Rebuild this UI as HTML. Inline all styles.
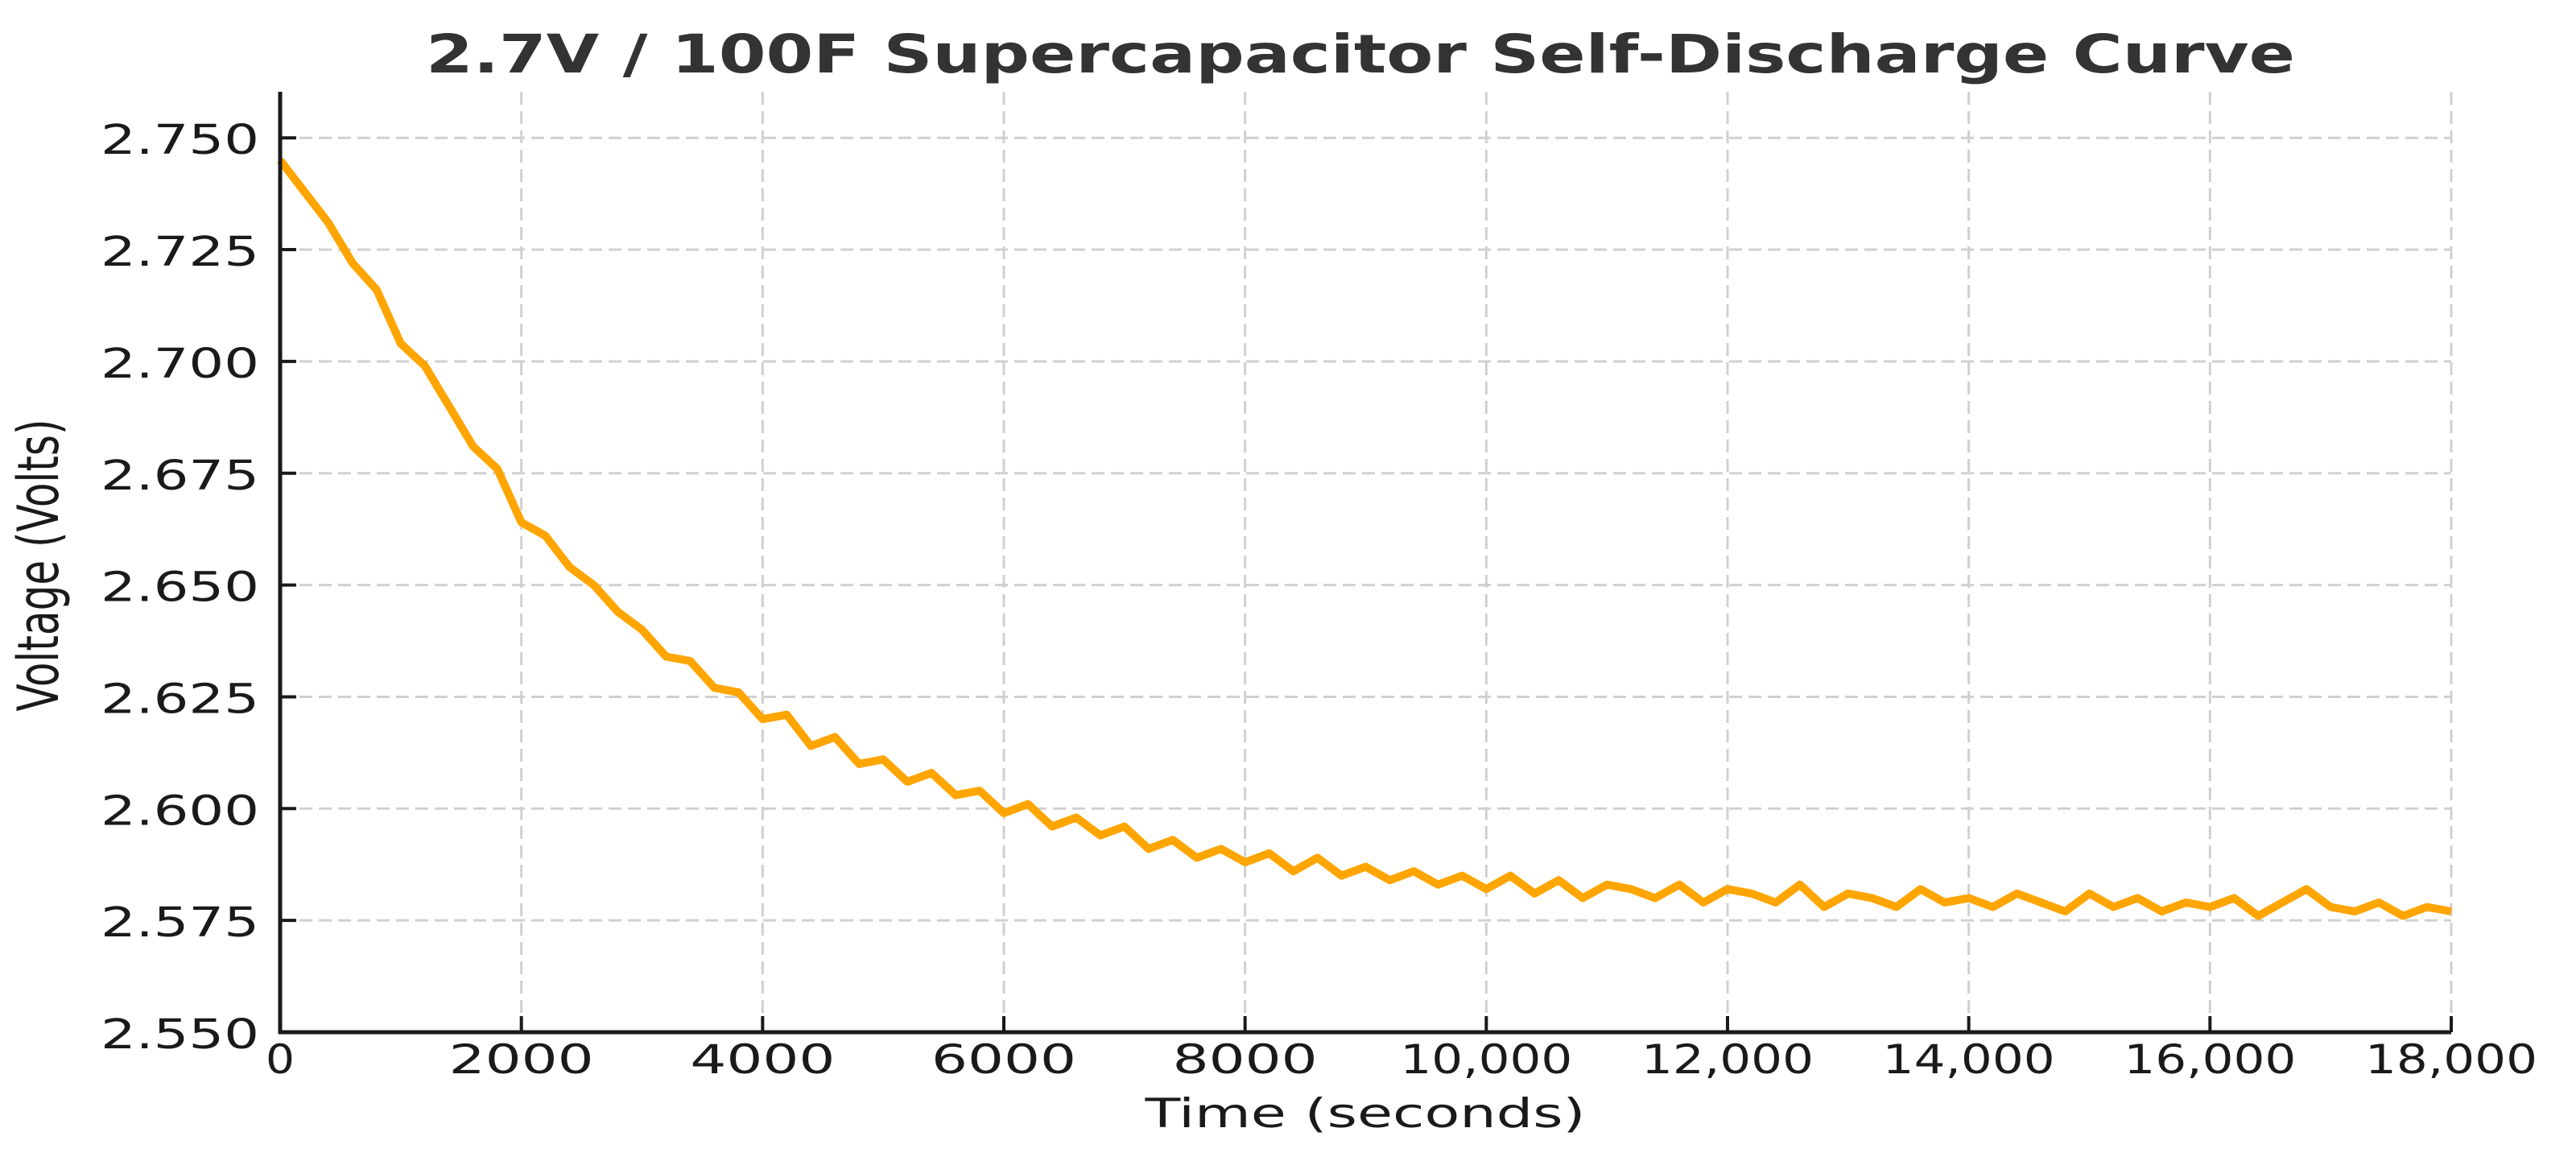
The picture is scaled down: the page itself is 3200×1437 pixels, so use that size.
<!DOCTYPE html>
<html><head><meta charset="utf-8"><style>
html,body{margin:0;padding:0;background:#fff;}
svg{display:block;}
text{font-family:"DejaVu Sans","Liberation Sans",sans-serif;fill:#1a1a1a;}
</style></head>
<body>
<svg id="chart" width="3200" height="1437" viewBox="0 0 3200 1437" xmlns="http://www.w3.org/2000/svg">
<rect width="3200" height="1437" fill="#fff"/>
<text x="1690" y="90" text-anchor="middle" font-size="66" font-weight="bold" fill="#333" style="fill:#333" textLength="2322" lengthAdjust="spacingAndGlyphs">2.7V / 100F Supercapacitor Self-Discharge Curve</text>
<g id="grid"></g>
<g id="series"></g>
<g id="axes"></g>
<text x="1696" y="1400" text-anchor="middle" font-size="50" textLength="547" lengthAdjust="spacingAndGlyphs">Time (seconds)</text>
<text transform="translate(72,702) rotate(-90)" text-anchor="middle" font-size="70" textLength="363" lengthAdjust="spacingAndGlyphs">Voltage (Volts)</text>
</svg>
<script>
const stepSeconds = 200;
const voltages = [
2.745,2.738,2.731,2.722,2.716,2.704,2.699,2.690,2.681,2.676,
2.664,2.661,2.654,2.650,2.644,2.640,2.634,2.633,2.627,2.626,
2.620,2.621,2.614,2.616,2.610,2.611,2.606,2.608,2.603,2.604,
2.599,2.601,2.596,2.598,2.594,2.596,2.591,2.593,2.589,2.591,
2.588,2.590,2.586,2.589,2.585,2.587,2.584,2.586,2.583,2.585,
2.582,2.585,2.581,2.584,2.580,2.583,2.582,2.580,2.583,2.579,
2.582,2.581,2.579,2.583,2.578,2.581,2.580,2.578,2.582,2.579,
2.580,2.578,2.581,2.579,2.577,2.581,2.578,2.580,2.577,2.579,
2.578,2.580,2.576,2.579,2.582,2.578,2.577,2.579,2.576,2.578,
2.577];
const yTicks = [2.550,2.575,2.600,2.625,2.650,2.675,2.700,2.725,2.750];
const yTickLabels = ["2.550","2.575","2.600","2.625","2.650","2.675","2.700","2.725","2.750"];
const xTicks = [0,2000,4000,6000,8000,10000,12000,14000,16000,18000];
const xTickLabels = ["0","2000","4000","6000","8000","10,000","12,000","14,000","16,000","18,000"];

const L=348,R=3045,T=114,B=1282,xMin=0,xMax=18000,yMin=2.55,yMax=2.7603;
const NS="http://www.w3.org/2000/svg";
function xs(v){return L+(v-xMin)/(xMax-xMin)*(R-L);}
function ys(v){return B-(v-yMin)/(yMax-yMin)*(B-T);}
function mk(tag,attrs,parent){const e=document.createElementNS(NS,tag);for(const k in attrs)e.setAttribute(k,attrs[k]);parent.appendChild(e);return e;}
const grid=document.getElementById('grid'),axes=document.getElementById('axes'),series=document.getElementById('series');
yTicks.forEach((v,i)=>{
  const y=ys(v);
  if(i>0){const g=mk('line',{x1:L,x2:R,y1:y,y2:y,stroke:'#d0d0d0','stroke-width':3,'stroke-dasharray':'16,8'},grid);
  
  }
  const t=mk('line',{x1:L,x2:L+20,y1:y,y2:y,stroke:'#1a1a1a','stroke-width':4},axes);
  
  
  const lb=mk('text',{x:322,y:y+20,'text-anchor':'end','font-size':51,textLength:197,lengthAdjust:'spacingAndGlyphs'},axes);
  lb.textContent=yTickLabels[i];
  
  
});
xTicks.forEach((v,i)=>{
  const x=xs(v);
  if(i>0){const g=mk('line',{x1:x,x2:x,y1:T,y2:B,stroke:'#d0d0d0','stroke-width':3,'stroke-dasharray':'16,8'},grid);
  
  }
  const t=mk('line',{x1:x,x2:x,y1:B,y2:B-20,stroke:'#1a1a1a','stroke-width':4},axes);
  
  
  const s=xTickLabels[i];
  const w=s.length===1?36:(s.length===4?180:214);
  const lb=mk('text',{x:x,y:1333,'text-anchor':'middle','font-size':50,textLength:w,lengthAdjust:'spacingAndGlyphs'},axes);
  lb.textContent=s;
  
  
});
const sp1=mk('line',{x1:L,x2:L,y1:T,y2:B+2,stroke:'#1a1a1a','stroke-width':5},axes);


const sp2=mk('line',{x1:L-2,x2:R,y1:B,y2:B,stroke:'#1a1a1a','stroke-width':5},axes);


const pts=voltages.map((v,i)=>xs(i*stepSeconds).toFixed(1)+','+ys(v).toFixed(1)).join(' ');
const pl=mk('polyline',{points:pts,fill:'none',stroke:'#FFA500','stroke-width':10,'stroke-linejoin':'round'},series);


</script>
</body></html>
